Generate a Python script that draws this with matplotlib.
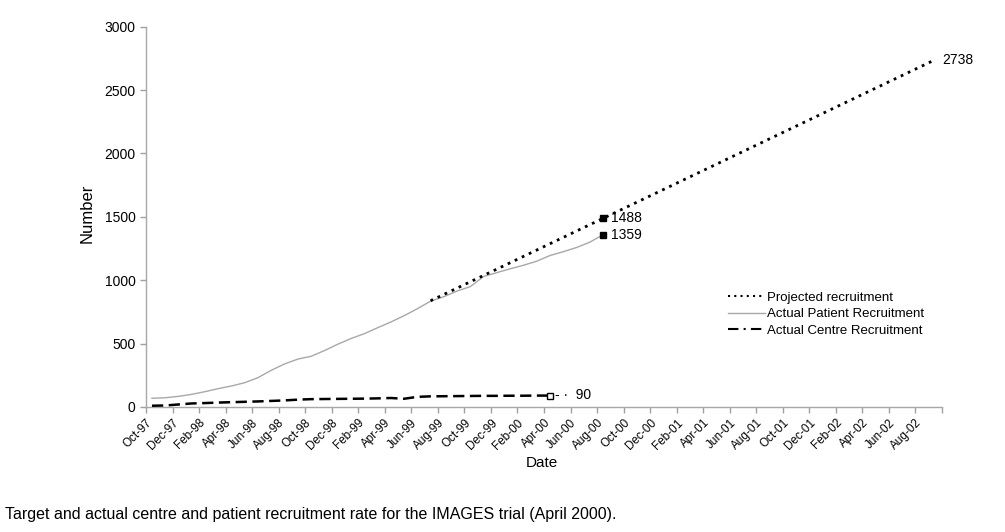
import numpy as np
import matplotlib
matplotlib.use('Agg')
import matplotlib.pyplot as plt
from matplotlib.lines import Line2D

plt.rcParams['font.family'] = ['Liberation Sans', 'DejaVu Sans']

# month 0 = Oct-97, one label every two months
tick_labels = ['Oct-97', 'Dec-97', 'Feb-98', 'Apr-98', 'Jun-98', 'Aug-98',
               'Oct-98', 'Dec-98', 'Feb-99', 'Apr-99', 'Jun-99', 'Aug-99',
               'Oct-99', 'Dec-99', 'Feb-00', 'Apr-00', 'Jun-00', 'Aug-00',
               'Oct-00', 'Dec-00', 'Feb-01', 'Apr-01', 'Jun-01', 'Aug-01',
               'Oct-01', 'Dec-01', 'Feb-02', 'Apr-02', 'Jun-02', 'Aug-02', '']

# actual patient recruitment, monthly from Oct-97 to Aug-00
patient = [69, 73, 84, 100, 121, 145, 166, 192, 232, 290, 340, 378, 400, 445,
           495, 540, 578, 625, 670, 720, 775, 835, 870, 915, 950, 1030, 1060,
           1090, 1118, 1150, 1195, 1225, 1258, 1300, 1359]

# actual centre recruitment, monthly from Oct-97 to Apr-00
centre = [10, 12, 20, 28, 31, 35, 38, 41, 44, 48, 52, 58, 62, 63, 64, 65, 66,
          68, 71, 65, 80, 84, 85, 86, 87, 88, 88, 89, 89, 90, 90]

# projected recruitment, monthly from Jul-99 to Sep-02
projected_start = 21
projected = [838, 888, 938, 988, 1038, 1088, 1138, 1188, 1238, 1288, 1338,
             1388, 1438, 1488, 1538, 1588, 1638, 1688, 1738, 1788, 1838, 1888,
             1938, 1988, 2038, 2088, 2138, 2188, 2238, 2288, 2338, 2388, 2438,
             2488, 2538, 2588, 2638, 2688, 2738]

off = 0.45  # points sit mid-month
x_pat = np.arange(len(patient)) + off
x_cen = np.arange(len(centre)) + off
x_proj = np.arange(len(projected)) + projected_start + off

fig = plt.figure(figsize=(10.05, 5.32), dpi=100)
ax = fig.add_axes([146 / 1005, 1 - 407 / 532, 796 / 1005, 380.3 / 532])

proj_style = (0, (1, 1.8))
cen_style = (0, (4.5, 2.2))

ax.plot(x_pat, patient, color='#a8a8a8', lw=1.0, zorder=2)
ax.plot(x_proj, projected, color='black', lw=2, linestyle=proj_style, zorder=3)
ax.plot(x_cen, centre, color='black', lw=1.8, linestyle=cen_style, zorder=3)

# end markers and labels
i_now = 34 - projected_start
ax.plot(x_proj[i_now], projected[i_now], 's', color='black', ms=4.5, zorder=4)
ax.plot(x_pat[-1], patient[-1], 's', color='black', ms=4.5, zorder=4)
ax.plot(x_cen[-1], centre[-1], 's', mfc='white', mec='black', ms=4, mew=1, zorder=4)
ax.text(x_proj[i_now] + 0.6, projected[i_now], str(projected[i_now]),
        fontsize=10, va='center')
ax.text(x_pat[-1] + 0.6, patient[-1], str(patient[-1]), fontsize=10, va='center')
ax.text(x_cen[-1] + 0.4, centre[-1] + 5, '- \u00b7  ' + str(centre[-1]),
        fontsize=10, va='center')
ax.text(x_proj[-1] + 0.6, projected[-1], str(projected[-1]), fontsize=10, va='center')

ax.set_xlim(0, 60)
ax.set_ylim(0, 3000)
ax.set_yticks(np.arange(0, 3001, 500))
ax.set_xticks(np.arange(0, 61, 2))
ax.set_xticklabels(tick_labels, rotation=45, ha='right', rotation_mode='anchor',
                   fontsize=8.5)
ax.tick_params(axis='y', labelsize=10)
ax.tick_params(axis='x', pad=3)
ax.tick_params(colors='#a0a0a0', labelcolor='black', length=4, width=1)

for s in ['top', 'right']:
    ax.spines[s].set_visible(False)
for s in ['left', 'bottom']:
    ax.spines[s].set_color('#a8a8a8')
    ax.spines[s].set_linewidth(1)

ax.set_ylabel('Number', fontsize=12)
ax.yaxis.set_label_coords(-0.064, 0.51)
ax.set_xlabel('Date', fontsize=11)
ax.xaxis.set_label_coords(0.497, -0.13)

handles = [Line2D([], [], color='black', lw=1.5, linestyle=(0, (1, 2))),
           Line2D([], [], color='#a8a8a8', lw=1.0),
           Line2D([], [], color='black', lw=1.5, linestyle=(0, (5, 2.5, 1, 2.5)))]
ax.legend(handles, ['Projected recruitment', 'Actual Patient Recruitment',
                    'Actual Centre Recruitment'],
          loc='upper left', bbox_to_anchor=(716 / 1005, 1 - 280 / 532),
          bbox_transform=fig.transFigure, frameon=False, fontsize=9.5,
          handlelength=2.8, handletextpad=0.2, labelspacing=0.3)

fig.text(5 / 1005, 1 - 515 / 532,
         'Target and actual centre and patient recruitment rate for the IMAGES trial (April 2000).',
         fontsize=11.5, va='center', ha='left')

fig.savefig('out.png', dpi=100)
